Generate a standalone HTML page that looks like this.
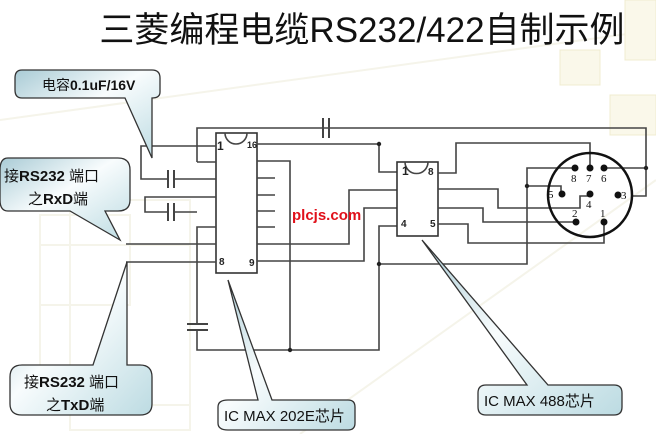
<!DOCTYPE html>
<html><head><meta charset="utf-8"><style>
html,body{margin:0;padding:0;background:#fff;}
svg{display:block;}
text{font-family:"Liberation Sans","Noto Sans CJK SC",sans-serif;}
</style></head><body>
<svg width="656" height="434" viewBox="0 0 656 434" xmlns="http://www.w3.org/2000/svg">
<defs>
<linearGradient id="cg" x1="0" y1="0" x2="1" y2="1">
<stop offset="0" stop-color="#a9cbd5"/><stop offset="0.45" stop-color="#f8fcfd"/><stop offset="1" stop-color="#bcdbe2"/>
</linearGradient>
</defs>
<rect width="656" height="434" fill="#fff"/>
<g stroke="#f5f4ea" fill="none" stroke-width="2">
<line x1="0" y1="120" x2="656" y2="30"/>
<line x1="300" y1="434" x2="656" y2="180"/>
<rect x="40" y="215" width="90" height="90"/>
<rect x="40" y="245" width="150" height="160"/>
<rect x="70" y="200" width="120" height="230"/>
</g>
<g fill="#faf8ea" stroke="#f0ecd0">
<rect x="625" y="0" width="31" height="60"/>
<rect x="560" y="50" width="40" height="35"/>
<rect x="610" y="95" width="46" height="40"/>
</g>
<text x="362" y="42" font-size="35" text-anchor="middle" fill="#111">三菱编程电缆RS232/422自制示例</text>

<g stroke="#444" stroke-width="1.6" fill="none">
<rect x="216" y="133" width="41" height="140" stroke="#333"/>
<path d="M225 133 A11 11 0 0 0 247 133"/>
<polyline points="197,162 197,128 646,128 646,196 633,196"/>
<polyline points="216,162 197,162"/>
<polyline points="257,144 379,144 379,172 397,172"/>
<polyline points="216,146 141,146 141,179 168,179"/>
<line x1="174" y1="179" x2="216" y2="179"/>
<polyline points="216,197 145,197 145,212 168,212"/>
<line x1="174" y1="212" x2="197" y2="212"/>
<polyline points="216,227 197,227 197,324"/>
<polyline points="197,330 197,350 379,350 379,226 397,226"/>
<polyline points="257,161 290,161 290,350"/>
<line x1="257" y1="178" x2="275" y2="178"/>
<line x1="257" y1="195" x2="275" y2="195"/>
<line x1="257" y1="211" x2="275" y2="211"/>
<line x1="257" y1="227" x2="275" y2="227"/>
<line x1="126" y1="244" x2="216" y2="244"/>
<line x1="126" y1="262" x2="216" y2="262"/>
<polyline points="257,244 349,244 349,190 397,190"/>
<polyline points="257,261 364,261 364,208 397,208"/>
<polyline points="379,264 527,264 527,168 575,168"/>
<polyline points="527,186 561,186 561,194"/>
<rect x="397" y="162" width="41" height="74" stroke="#333"/>
<path d="M405 162 A10 10 0 0 0 428 162"/>
<polyline points="438,173 456,173 456,143 590,143 590,168"/>
<polyline points="438,189 498,189 498,208 580,208 580,196 590,196"/>
<polyline points="438,208 483,208 483,222 576,222"/>
<polyline points="438,224 468,224 468,243 604,243 604,222"/>
<polyline points="604,168 646,168"/>
</g>
<g stroke="#444" stroke-width="2">
<line x1="323" y1="118" x2="323" y2="138"/><line x1="329" y1="118" x2="329" y2="138"/>
<line x1="168" y1="170" x2="168" y2="188"/><line x1="174" y1="170" x2="174" y2="188"/>
<line x1="168" y1="203" x2="168" y2="221"/><line x1="174" y1="203" x2="174" y2="221"/>
<line x1="187" y1="324" x2="208" y2="324"/><line x1="187" y1="330" x2="208" y2="330"/>
</g>
<g fill="#222">
<circle cx="379" cy="144" r="2.2"/><circle cx="290" cy="350" r="2.2"/><circle cx="379" cy="264" r="2.2"/>
<circle cx="527" cy="186" r="2.2"/><circle cx="646" cy="168" r="2.2"/>
</g>
<circle cx="590" cy="195" r="42" fill="none" stroke="#111" stroke-width="2.5"/>
<g fill="#111">
<circle cx="575" cy="168" r="3.5"/><circle cx="590" cy="168" r="3.5"/><circle cx="604" cy="168" r="3.5"/>
<circle cx="562" cy="194" r="3.5"/><circle cx="590" cy="194" r="3.5"/><circle cx="618" cy="195" r="3.5"/>
<circle cx="576" cy="222" r="3.5"/><circle cx="604" cy="222" r="3.5"/>
</g>
<g font-size="11" fill="#111">
<text x="571" y="182" style="font-family:'Liberation Serif',serif">8</text>
<text x="586" y="182" style="font-family:'Liberation Serif',serif">7</text>
<text x="601" y="182" style="font-family:'Liberation Serif',serif">6</text>
<text x="548" y="198" style="font-family:'Liberation Serif',serif">5</text>
<text x="586" y="208" style="font-family:'Liberation Serif',serif">4</text>
<text x="621" y="199" style="font-family:'Liberation Serif',serif">3</text>
<text x="572" y="217" style="font-family:'Liberation Serif',serif">2</text>
<text x="600" y="217" style="font-family:'Liberation Serif',serif">1</text>
</g>
<g font-size="10" font-weight="bold" fill="#222">
<text x="217" y="150" font-size="12">1</text><text x="247" y="148" font-size="9">16</text>
<text x="219" y="265">8</text><text x="249" y="266">9</text>
<text x="402" y="175" font-size="12">1</text><text x="428" y="175">8</text>
<text x="401" y="227">4</text><text x="430" y="227">5</text>
</g>
<text x="292" y="220" font-size="15" font-weight="bold" fill="#e0101a">plcjs.com</text>

<g stroke="#333" stroke-width="1.3" fill="url(#cg)">
<path d="M22 70 H152 Q160 70 160 78 V92 Q160 98 152 98 V158 L125 98 H22 Q15 98 15 90 V78 Q15 70 22 70 Z"/>
<path d="M8 158 H118 Q130 158 130 170 V200 Q130 211 118 211 H105 L120 240 L70 211 H8 Q0 211 0 200 V170 Q0 158 8 158 Z"/>
<path d="M22 365 H93 L127 262 V365 H140 Q152 365 152 377 V404 Q152 415 140 415 H22 Q10 415 10 404 V377 Q10 365 22 365 Z"/>
<path d="M228 400 H258 L228 280 L272 400 H348 Q355 400 355 407 V423 Q355 430 348 430 H228 Q218 430 218 423 V407 Q218 400 228 400 Z"/>
<path d="M486 385 H527 L422 240 L548 385 H614 Q622 385 622 393 V407 Q622 415 614 415 H486 Q478 415 478 407 V393 Q478 385 486 385 Z"/>
</g>
<g fill="#111" font-size="14">
<text x="42" y="90">电容<tspan font-weight="bold">0.1uF/16V</tspan></text>
<text x="4" y="181" font-size="15">接<tspan font-weight="bold">RS232</tspan> 端口</text>
<text x="28" y="204" font-size="15">之<tspan font-weight="bold">RxD</tspan>端</text>
<text x="24" y="387" font-size="15">接<tspan font-weight="bold">RS232</tspan> 端口</text>
<text x="46" y="410" font-size="15">之<tspan font-weight="bold">TxD</tspan>端</text>
<text x="224" y="421" font-size="15">IC MAX 202E芯片</text>
<text x="484" y="406" font-size="15">IC MAX 488芯片</text>
</g>
</svg>
</body></html>
